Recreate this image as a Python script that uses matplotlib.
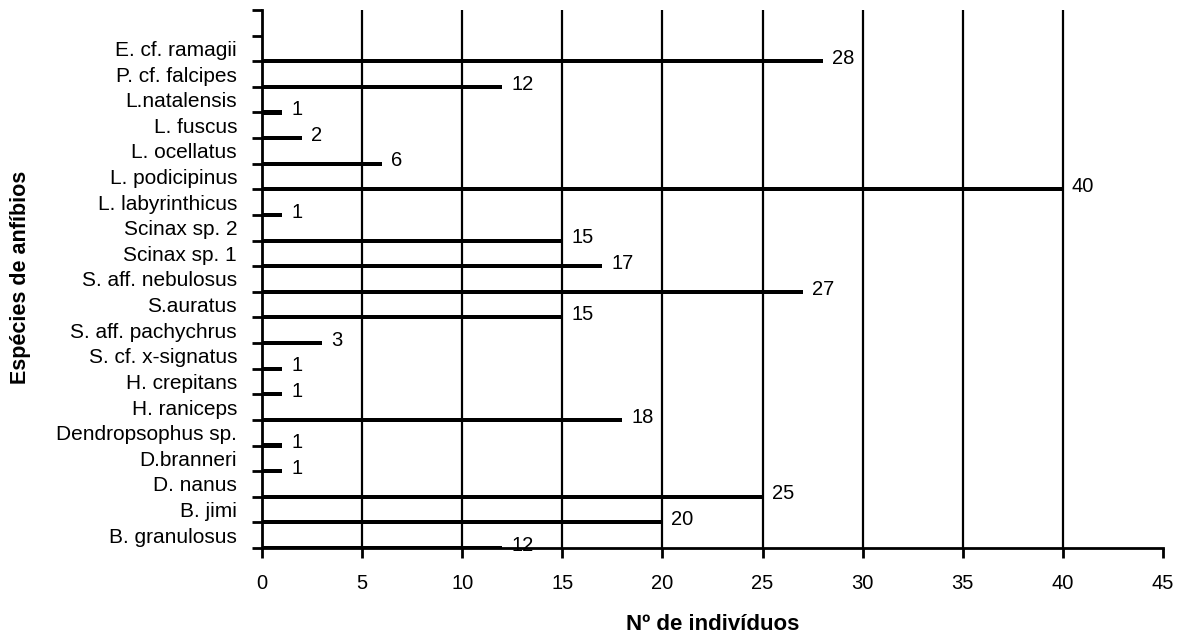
import numpy as np
import matplotlib.pyplot as plt

# dados (de baixo para cima)
especies = ["B. granulosus", "B. jimi", "D. nanus", "D.branneri", "Dendropsophus sp.",
            "H. raniceps", "H. crepitans", "S. cf. x-signatus", "S. aff. pachychrus",
            "S.auratus", "S. aff. nebulosus", "Scinax sp. 1", "Scinax sp. 2",
            "L. labyrinthicus", "L. podicipinus", "L. ocellatus", "L. fuscus",
            "L.natalensis", "P. cf. falcipes", "E. cf. ramagii"]
individuos = [12, 20, 25, 1, 1, 18, 1, 1, 3, 15, 27, 17, 15, 1, 40, 6, 2, 1, 12, 28]

plt.rcParams['font.family'] = ['Liberation Sans', 'DejaVu Sans']

fig = plt.figure(figsize=(11.92, 6.41), dpi=100)
ax = fig.add_axes([0.2198, 0.1451, 0.7559, 0.8393])

pos = np.arange(len(especies))
ax.barh(pos, individuos, height=0.16, color='black', zorder=3)
for p, v in zip(pos, individuos):
    ax.annotate(str(v), (v, p), xytext=(6.5, 2), textcoords='offset points',
                va='center', ha='left', fontsize=14.5)

ax.set_xlim(0, 45)
ax.set_ylim(0, len(especies) + 1)
ax.set_xticks(np.arange(0, 46, 5))
ax.tick_params(axis='x', labelsize=14.5, length=7, width=2, pad=12)

ax.set_yticks(np.arange(0, len(especies) + 2))
ax.set_yticklabels([])
ax.set_yticks(pos + 0.5, minor=True)
ax.set_yticklabels(especies, minor=True)
ax.tick_params(axis='y', which='major', length=7, width=2)
ax.tick_params(axis='y', which='minor', length=0, labelsize=15, pad=18)

for x in range(5, 45, 5):
    ax.axvline(x, color='black', lw=1.6, zorder=2)

for s in ['top', 'right']:
    ax.spines[s].set_visible(False)
for s in ['left', 'bottom']:
    ax.spines[s].set_linewidth(2)

fig.text(0.598, 0.025, "Nº de indivíduos", ha='center', va='center',
         fontsize=16, fontweight='bold')
fig.text(0.017, 0.568, "Espécies de anfíbios", ha='center', va='center',
         rotation=90, fontsize=15.5, fontweight='bold')

fig.savefig("out.png", dpi=100)
